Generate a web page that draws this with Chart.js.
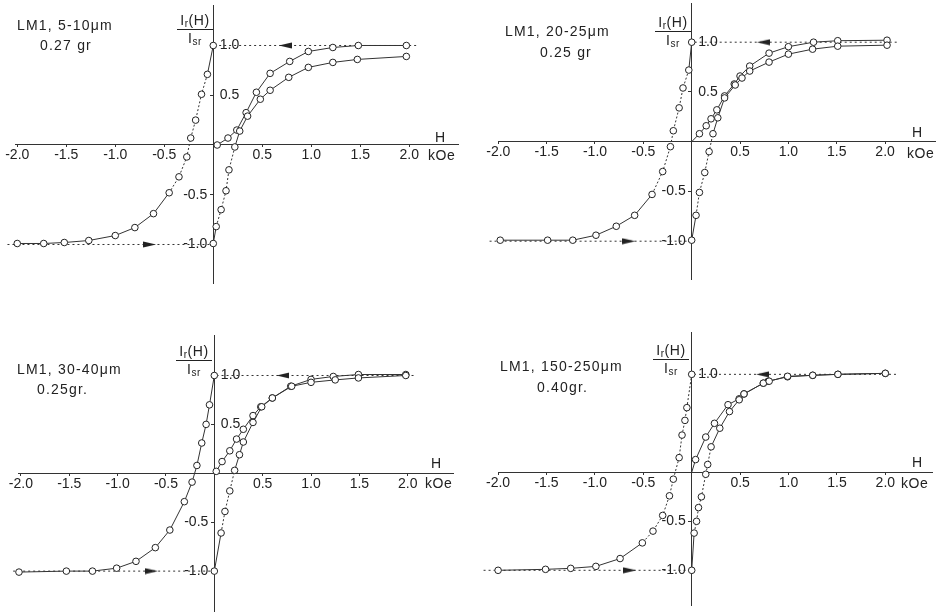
<!DOCTYPE html>
<html lang="en">
<head>
<meta charset="utf-8">
<title>LM1 remanence curves by grain size</title>
<script src="https://cdn.jsdelivr.net/npm/chart.js@4.4.1/dist/chart.umd.min.js"></script>
<style>
  html, body { margin: 0; padding: 0; background: #fff; }
  body { position: relative; width: 939px; height: 612px; overflow: hidden;
         font-family: "Liberation Sans", Arial, sans-serif; color: #222; }
  canvas { position: absolute; }
  .lbl { position: absolute; font-size: 14px; line-height: 20px; letter-spacing: 1.2px; white-space: nowrap; }
  .unit { letter-spacing: 0.6px; }
  .frac { position: absolute; width: 36px; font-size: 14px; text-align: center; letter-spacing: 0.6px; white-space: nowrap; }
  .frac .num { display: block; height: 17px; line-height: 17px; border-bottom: 1px solid #222; }
  .frac .den { display: block; line-height: 16px; }
  .frac sub { font-size: 10px; vertical-align: -2px; line-height: 0; }
</style>
</head>
<body>
<canvas id="p1"></canvas>
<canvas id="p2"></canvas>
<canvas id="p3"></canvas>
<canvas id="p4"></canvas>

<!-- sample captions -->
<div class="lbl" style="left:17px;top:15px">LM1, 5-10μm</div>
<div class="lbl" style="left:40px;top:35px">0.27 gr</div>
<div class="lbl" style="left:505px;top:21px">LM1, 20-25μm</div>
<div class="lbl" style="left:540px;top:42px">0.25 gr</div>
<div class="lbl" style="left:17px;top:359px">LM1, 30-40μm</div>
<div class="lbl" style="left:37px;top:379px">0.25gr.</div>
<div class="lbl" style="left:500px;top:356px">LM1, 150-250μm</div>
<div class="lbl" style="left:537px;top:377px">0.40gr.</div>

<!-- ordinate titles -->
<div class="frac" style="left:177px;top:12px"><span class="num">I<sub>r</sub>(H)</span><span class="den">I<sub>sr</sub></span></div>
<div class="frac" style="left:655px;top:14px"><span class="num">I<sub>r</sub>(H)</span><span class="den">I<sub>sr</sub></span></div>
<div class="frac" style="left:176px;top:343px"><span class="num">I<sub>r</sub>(H)</span><span class="den">I<sub>sr</sub></span></div>
<div class="frac" style="left:653px;top:342px"><span class="num">I<sub>r</sub>(H)</span><span class="den">I<sub>sr</sub></span></div>

<!-- abscissa titles -->
<div class="lbl" style="left:435px;top:127px">H</div>
<div class="lbl unit" style="left:428px;top:145px">kOe</div>
<div class="lbl" style="left:912px;top:122px">H</div>
<div class="lbl unit" style="left:907px;top:143px">kOe</div>
<div class="lbl" style="left:431px;top:453px">H</div>
<div class="lbl unit" style="left:425px;top:473px">kOe</div>
<div class="lbl" style="left:912px;top:452px">H</div>
<div class="lbl unit" style="left:901px;top:473px">kOe</div>

<script>
// Field H in kOe, remanence normalised to saturation, Ir(H)/Isr.
// "Back" = back-field curve after saturation in +H, "Up" = curve starting from -1,
// "Irm" = acquisition curve from the demagnetised state.

// LM1, 5-10 um
const p1BackH = [0, -0.06, -0.12, -0.18, -0.23, -0.27, -0.35, -0.45, -0.61, -0.8, -1.0, -1.27, -1.52, -1.73, -2.0];
const p1BackI = [1.0, 0.71, 0.51, 0.25, 0.07, -0.12, -0.32, -0.48, -0.69, -0.83, -0.91, -0.96, -0.98, -0.99, -0.99];
const p1UpH   = [0, 0.03, 0.08, 0.13, 0.16, 0.22, 0.27, 0.35, 0.48, 0.58, 0.77, 0.97, 1.22, 1.47, 1.97];
const p1UpI   = [-0.99, -0.82, -0.65, -0.46, -0.25, -0.02, 0.14, 0.29, 0.46, 0.55, 0.68, 0.78, 0.83, 0.86, 0.89];
const p1IrmH  = [0.04, 0.15, 0.24, 0.335, 0.44, 0.58, 0.78, 0.97, 1.22, 1.48, 1.97];
const p1IrmI  = [0.0, 0.07, 0.15, 0.325, 0.53, 0.72, 0.84, 0.94, 0.98, 1.0, 1.0];
const p1GuideH = [2.07, -2.1];
const p1ArrowH = [0.735, -0.65];

// LM1, 20-25 um
const p2BackH = [0, -0.03, -0.09, -0.13, -0.19, -0.22, -0.30, -0.41, -0.59, -0.78, -0.99, -1.23, -1.49, -1.98];
const p2BackI = [1.0, 0.72, 0.54, 0.34, 0.11, -0.05, -0.30, -0.53, -0.74, -0.85, -0.94, -0.99, -0.99, -0.99];
const p2UpH   = [0, 0.045, 0.08, 0.135, 0.18, 0.22, 0.27, 0.34, 0.45, 0.52, 0.6, 0.8, 1.0, 1.25, 1.51, 2.02];
const p2UpI   = [-0.99, -0.74, -0.51, -0.31, -0.10, 0.08, 0.24, 0.44, 0.57, 0.64, 0.71, 0.80, 0.88, 0.93, 0.96, 0.97];
const p2IrmH  = [0, 0.08, 0.15, 0.2, 0.26, 0.34, 0.44, 0.5, 0.6, 0.8, 1.0, 1.26, 1.51, 2.02];
const p2IrmI  = [0, 0.08, 0.16, 0.23, 0.32, 0.46, 0.58, 0.66, 0.76, 0.89, 0.955, 1.0, 1.015, 1.02];
const p2GuideH = [2.12, -2.09];
const p2ArrowH = [0.74, -0.65];

// LM1, 30-40 um
const p3BackH = [0, -0.05, -0.085, -0.13, -0.18, -0.23, -0.31, -0.46, -0.61, -0.81, -1.01, -1.26, -1.53, -2.02];
const p3BackI = [1.0, 0.70, 0.50, 0.31, 0.08, -0.09, -0.29, -0.58, -0.76, -0.90, -0.97, -1.0, -1.0, -1.01];
const p3UpH   = [0, 0.07, 0.11, 0.16, 0.21, 0.26, 0.30, 0.40, 0.49, 0.60, 0.80, 1.0, 1.25, 1.49, 1.98];
const p3UpI   = [-1.0, -0.61, -0.39, -0.18, 0.03, 0.19, 0.32, 0.52, 0.68, 0.77, 0.89, 0.93, 0.955, 0.975, 1.0];
const p3IrmH  = [0.02, 0.08, 0.16, 0.23, 0.30, 0.40, 0.48, 0.60, 0.79, 1.0, 1.23, 1.49, 1.98];
const p3IrmI  = [0.02, 0.12, 0.23, 0.35, 0.45, 0.59, 0.68, 0.77, 0.89, 0.96, 0.99, 1.01, 1.01];
const p3GuideH = [2.06, -2.08];
const p3ArrowH = [0.71, -0.65];

// LM1, 150-250 um
const p4BackH = [0, -0.05, -0.07, -0.10, -0.13, -0.19, -0.23, -0.30, -0.40, -0.51, -0.74, -0.99, -1.25, -1.51, -2.0];
const p4BackI = [1.0, 0.66, 0.53, 0.38, 0.15, -0.07, -0.24, -0.44, -0.60, -0.72, -0.88, -0.96, -0.98, -0.99, -1.0];
const p4UpH   = [0, 0.025, 0.05, 0.07, 0.10, 0.145, 0.165, 0.2, 0.29, 0.39, 0.49, 0.54, 0.74, 0.8, 0.99, 1.25, 1.51, 2.0];
const p4UpI   = [-1.0, -0.62, -0.50, -0.36, -0.25, -0.02, 0.08, 0.26, 0.45, 0.62, 0.74, 0.80, 0.91, 0.93, 0.98, 0.99, 1.0, 1.01];
const p4IrmH  = [0, 0.04, 0.145, 0.235, 0.375, 0.49, 0.54, 0.74, 0.79, 0.99, 1.25, 1.51, 2.0];
const p4IrmI  = [0, 0.13, 0.36, 0.50, 0.69, 0.75, 0.80, 0.91, 0.93, 0.975, 0.99, 1.0, 1.01];
const p4GuideH = [2.11, -2.15];
const p4ArrowH = [0.73, -0.64];

// saturation levels marked by the dotted guides (+1 then -1)
const satLevels = [1.0, -1.0];

// tick values and their labels
const xTickValues = [-2.0, -1.5, -1.0, -0.5, 0.5, 1.0, 1.5, 2.0];
const xTickLabels = ['-2.0', '-1.5', '-1.0', '-0.5', '0.5', '1.0', '1.5', '2.0'];
const yTickValuesNeg = [-1.0, -0.5];
const yTickLabelsNeg = ['-1.0', '-0.5'];
const yTickValuesPos = [0.5, 1.0];
const yTickLabelsPos = ['0.5', '1.0'];
const yTickValuesPosTop = [1.0];
const yTickLabelsPosTop = ['1.0'];

// ---------------------------------------------------------------------------
const INK = '#222';
const LINE = '#333';
const FONT = { family: 'Liberation Sans', size: 14 };
const MARGIN = 24;          // canvas margin around the plotting frame
const NEG_LABEL_GAP = 6;    // px between axis and right end of negative labels
const POS_LABEL_END = 26;   // px from axis to right end of positive labels

function arrowHead(dir) {
  const c = document.createElement('canvas');
  c.width = 13; c.height = 7;
  const g = c.getContext('2d');
  g.fillStyle = INK;
  g.beginPath();
  if (dir < 0) { g.moveTo(0, 3.5); g.lineTo(13, 0.5); g.lineTo(13, 6.5); }
  else { g.moveTo(13, 3.5); g.lineTo(0, 0.5); g.lineTo(0, 6.5); }
  g.closePath();
  g.fill();
  return c;
}
const arrowLeft = arrowHead(-1);
const arrowRight = arrowHead(1);

const toPoints = (hs, is) => hs.map((h, k) => ({ x: h, y: is[k] }));

function dotted(range) {
  if (!range) return undefined;
  return (ctx) => {
    const a = ctx.p0.parsed.y, b = ctx.p1.parsed.y;
    return (Math.min(a, b) >= range[0] && Math.max(a, b) <= range[1]) ? [2, 2] : undefined;
  };
}

function labelFrom(values, labels) {
  return (v) => {
    const k = values.findIndex(t => Math.abs(t - v) < 1e-9);
    return k < 0 ? '' : labels[k];
  };
}

const panels = [
  { id: 'p1', frame: { l: 15, t: 5, r: 458, b: 283 }, xr: [-2.023, 2.497], yr: [-1.387, 1.407],
    back: [p1BackH, p1BackI], up: [p1UpH, p1UpI], irm: [p1IrmH, p1IrmI],
    guide: p1GuideH, arrow: p1ArrowH, pos: [yTickValuesPos, yTickLabelsPos],
    irmBare: false, backDots: [-0.55, 0.75], upDots: [-0.85, 0.1] },
  { id: 'p2', frame: { l: 498, t: 3, r: 935, b: 279 }, xr: [-2.003, 2.516], yr: [-1.380, 1.394],
    back: [p2BackH, p2BackI], up: [p2UpH, p2UpI], irm: [p2IrmH, p2IrmI],
    guide: p2GuideH, arrow: p2ArrowH, pos: [yTickValuesPos, yTickLabelsPos],
    irmBare: true, backDots: [-0.55, 0.75], upDots: [-0.8, 0.1] },
  { id: 'p3', frame: { l: 18, t: 335, r: 453, b: 612 }, xr: [-2.030, 2.468], yr: [-1.418, 1.414],
    back: [p3BackH, p3BackI], up: [p3UpH, p3UpI], irm: [p3IrmH, p3IrmI],
    guide: p3GuideH, arrow: p3ArrowH, pos: [yTickValuesPos, yTickLabelsPos],
    irmBare: false, backDots: null, upDots: [-0.7, 0.1] },
  { id: 'p4', frame: { l: 498, t: 332, r: 932, b: 605 }, xr: [-2.001, 2.482], yr: [-1.354, 1.432],
    back: [p4BackH, p4BackI], up: [p4UpH, p4UpI], irm: [p4IrmH, p4IrmI],
    guide: p4GuideH, arrow: p4ArrowH, pos: [yTickValuesPosTop, yTickLabelsPosTop],
    irmBare: true, backDots: [-0.75, 1.0], upDots: [-0.7, 0.3] }
];

function curve(hi, dots, bareStart) {
  return {
    data: toPoints(hi[0], hi[1]),
    borderColor: LINE, borderWidth: 1, tension: 0,
    pointRadius: (c) => (bareStart && c.dataIndex === 0) ? 0 : 3.3,
    pointHoverRadius: 3.3,
    pointBackgroundColor: '#fff', pointBorderColor: INK, pointBorderWidth: 1,
    segment: { borderDash: dotted(dots) },
    clip: false, order: 1
  };
}

function guide(farH, level) {
  return {
    data: [{ x: farH, y: level }, { x: 0, y: level }],
    borderColor: LINE, borderWidth: 1, borderDash: [2, 3],
    pointRadius: 0, clip: false, order: 3
  };
}

function makePanel(p) {
  const f = p.frame;
  const w = f.r - f.l, h = f.b - f.t;
  const el = document.getElementById(p.id);
  el.width = w + 2 * MARGIN;
  el.height = h + 2 * MARGIN;
  el.style.left = (f.l - MARGIN) + 'px';
  el.style.top = (f.t - MARGIN) + 'px';
  const pxPerH = w / (p.xr[1] - p.xr[0]);

  const yBase = { type: 'linear', axis: 'y', min: p.yr[0], max: p.yr[1] };
  const tickFont = { font: FONT, color: INK, padding: 0, autoSkip: false, maxRotation: 0 };

  new Chart(el, {
    type: 'line',
    data: {
      datasets: [
        curve(p.back, p.backDots, false),
        curve(p.up, p.upDots, false),
        curve(p.irm, null, p.irmBare),
        guide(p.guide[0], satLevels[0]),
        guide(p.guide[1], satLevels[1]),
        {
          data: [{ x: p.arrow[0], y: satLevels[0] }, { x: p.arrow[1], y: satLevels[1] }],
          showLine: false,
          pointStyle: (c) => c.dataIndex === 0 ? arrowLeft : arrowRight,
          pointRadius: 5, clip: false, order: 2
        }
      ]
    },
    options: {
      responsive: false, maintainAspectRatio: false, devicePixelRatio: 1,
      animation: false, events: [],
      layout: { padding: MARGIN },
      plugins: { legend: { display: false }, tooltip: { enabled: false }, title: { display: false } },
      scales: {
        x: {
          type: 'linear', min: p.xr[0], max: p.xr[1], position: { y: 0 },
          afterBuildTicks: (s) => { s.ticks = xTickValues.map(v => ({ value: v })); },
          ticks: Object.assign({ callback: labelFrom(xTickValues, xTickLabels) }, tickFont),
          grid: { display: true, drawOnChartArea: false, drawTicks: true, tickLength: 2, color: LINE },
          border: { display: true, color: LINE, width: 1 }
        },
        y: Object.assign({}, yBase, {
          position: { x: 0 },
          afterBuildTicks: (s) => { s.ticks = yTickValuesNeg.concat(p.pos[0]).map(v => ({ value: v })); },
          ticks: { display: false },
          grid: { display: true, drawOnChartArea: false, drawTicks: true, tickLength: 3, color: LINE },
          border: { display: true, color: LINE, width: 1 }
        }),
        yNeg: Object.assign({}, yBase, {
          position: { x: -NEG_LABEL_GAP / pxPerH }, z: 1,
          afterBuildTicks: (s) => { s.ticks = yTickValuesNeg.map(v => ({ value: v })); },
          ticks: Object.assign({
            callback: labelFrom(yTickValuesNeg, yTickLabelsNeg),
            showLabelBackdrop: true, backdropColor: '#fff',
            backdropPadding: { top: 0, bottom: 0, left: 2, right: 1 }
          }, tickFont),
          grid: { display: false }, border: { display: false }
        }),
        yPos: Object.assign({}, yBase, {
          position: { x: POS_LABEL_END / pxPerH }, z: 1,
          afterBuildTicks: (s) => { s.ticks = p.pos[0].map(v => ({ value: v })); },
          ticks: Object.assign({
            callback: labelFrom(p.pos[0], p.pos[1]),
            showLabelBackdrop: true, backdropColor: '#fff',
            backdropPadding: { top: 0, bottom: 0, left: 1, right: 3 }
          }, tickFont),
          grid: { display: false }, border: { display: false }
        })
      }
    }
  });
}

panels.forEach(makePanel);
</script>
</body>
</html>
